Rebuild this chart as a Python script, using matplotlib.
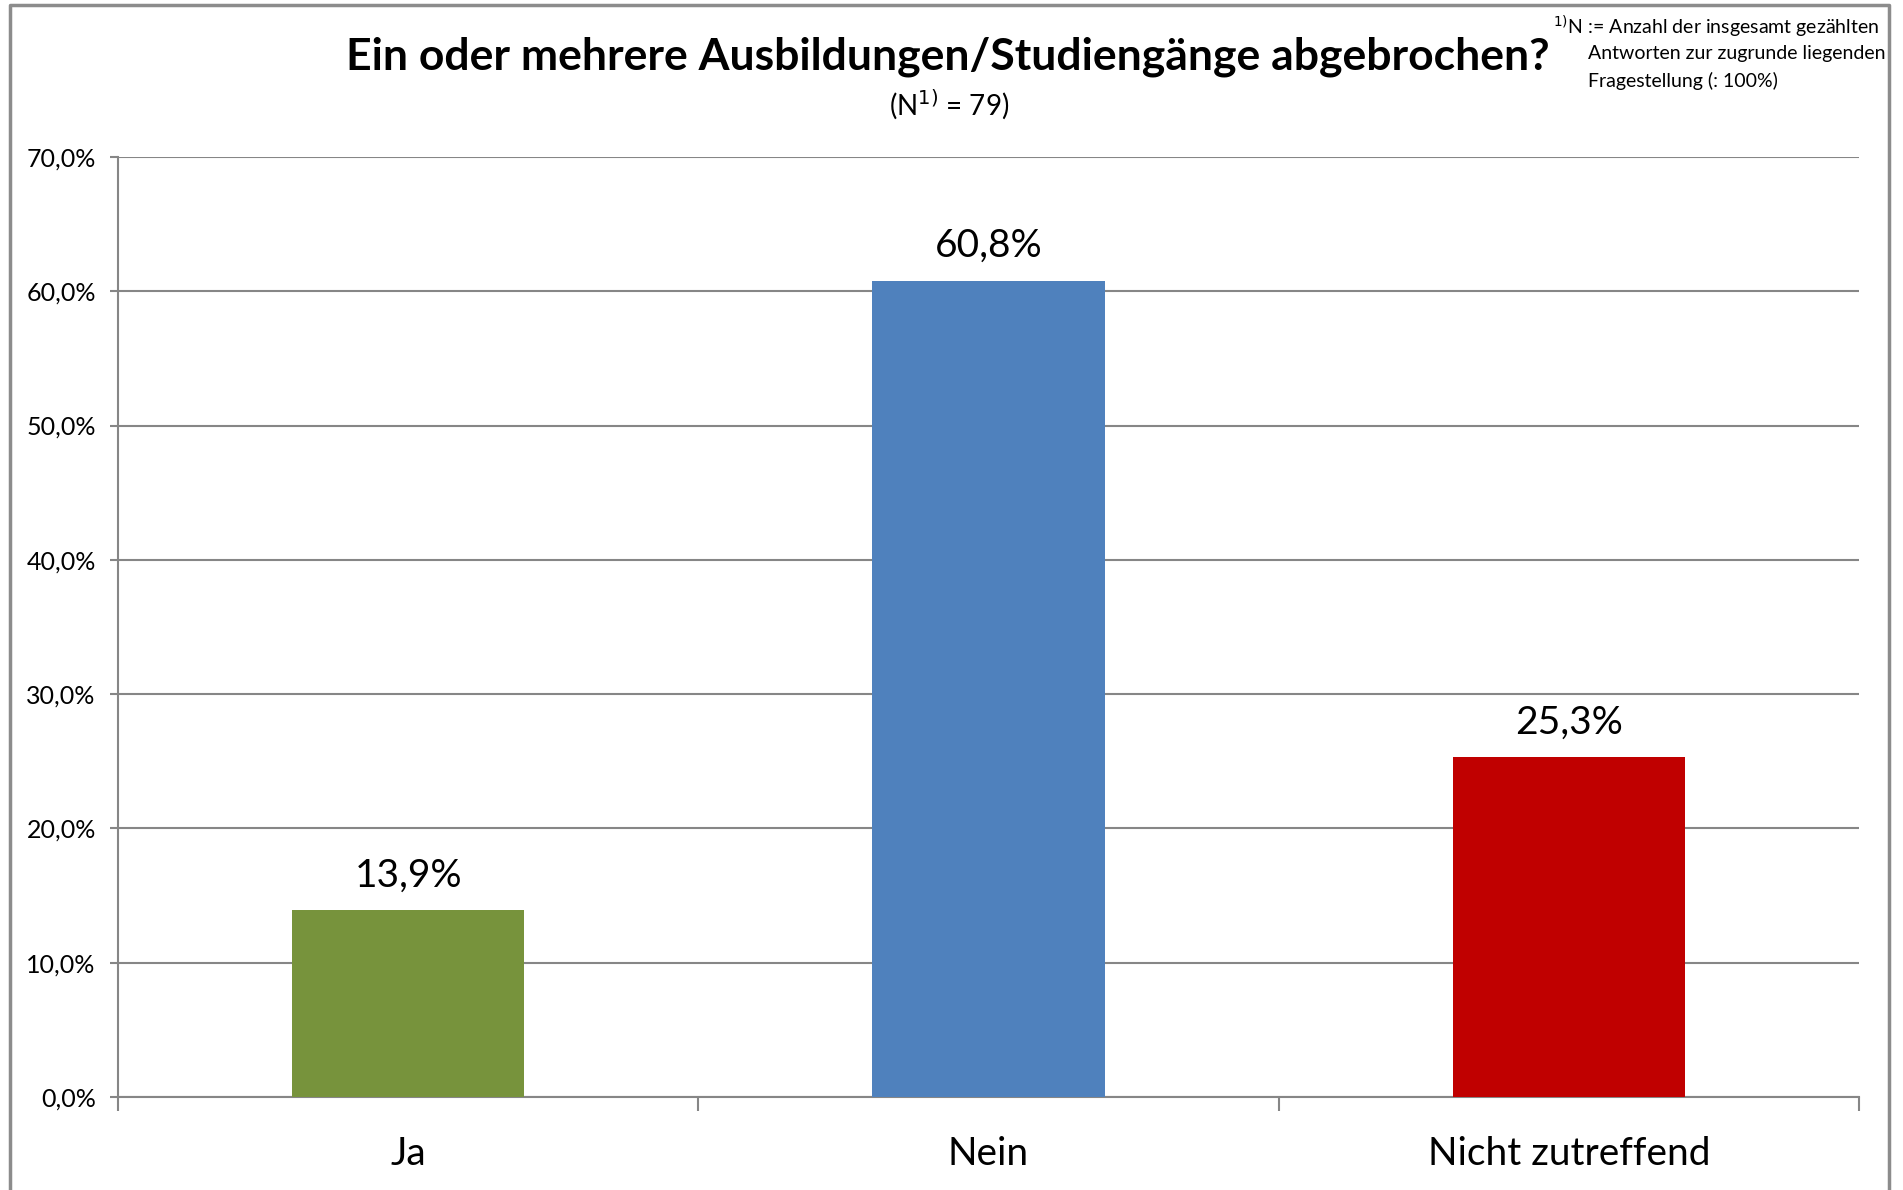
import numpy as np
import matplotlib.pyplot as plt
from matplotlib.lines import Line2D
from matplotlib.ticker import FixedLocator

plt.rcParams['font.family'] = ['Lato', 'DejaVu Sans']

categories = ['Ja', 'Nein', 'Nicht zutreffend']
values = [13.9, 60.8, 25.3]
colors = ['#77933C', '#4F81BD', '#C00000']
yticks = [0, 10, 20, 30, 40, 50, 60, 70]

title = 'Ein oder mehrere Ausbildungen/Studiengänge abgebrochen?'
subtitle = '(N$^{1)}$ = 79)'
footnote = ['$^{1)}$N := Anzahl der insgesamt gezählten',
            'Antworten zur zugrunde liegenden',
            'Fragestellung (: 100%)']

grey = '#868686'

fig = plt.figure(figsize=(19.03, 11.90), dpi=100)
ax = fig.add_axes([118 / 1903, 1 - 1097 / 1190, (1859 - 118) / 1903, (1097 - 157) / 1190])

x = np.arange(len(categories))
ax.bar(x, values, width=0.4, color=colors, zorder=3)

for xi, v in zip(x, values):
    ax.annotate(f'{v:.1f}%'.replace('.', ','), (xi, v), xytext=(0, 12),
                textcoords='offset points', ha='center', va='bottom', fontsize=28)

ax.set_xlim(-0.5, 2.5)
ax.set_ylim(0, 70)
ax.set_yticks(yticks)
ax.set_yticklabels([f'{t:.1f}%'.replace('.', ',') for t in yticks], fontsize=18)
ax.yaxis.grid(True, color=grey, linewidth=1.5, zorder=0)

ax.set_xticks(x)
ax.set_xticklabels(categories, fontsize=28)
ax.tick_params(axis='x', which='major', length=0, pad=28)
ax.xaxis.set_minor_locator(FixedLocator([-0.5, 0.5, 1.5, 2.5]))
ax.tick_params(axis='x', which='minor', length=10, width=1.5, color=grey)
ax.tick_params(axis='y', length=6, width=1.5, color=grey, pad=10)

for side in ['top', 'right']:
    ax.spines[side].set_visible(False)
for side in ['left', 'bottom']:
    ax.spines[side].set_color(grey)
    ax.spines[side].set_linewidth(1.5)

fig.text(948 / 1903, 1 - 57 / 1190, title, ha='center', va='center',
         fontsize=32, fontweight='bold')
fig.text(949 / 1903, 1 - 105 / 1190, subtitle, ha='center', va='center', fontsize=20)

fig.text(1553 / 1903, 1 - 27 / 1190, footnote[0], ha='left', va='center', fontsize=14)
fig.text(1588 / 1903, 1 - 54 / 1190, footnote[1], ha='left', va='center', fontsize=14)
fig.text(1588 / 1903, 1 - 81 / 1190, footnote[2], ha='left', va='center', fontsize=14)

# outer chart frame (left, top, right)
bx0, bx1, by = 10 / 1903, 1889 / 1903, 1 - 5 / 1190
fig.add_artist(Line2D([bx0, bx0, bx1, bx1], [0, by, by, 0], color='#8c8c8c', linewidth=2.5))

fig.savefig('out.png', dpi=100)
